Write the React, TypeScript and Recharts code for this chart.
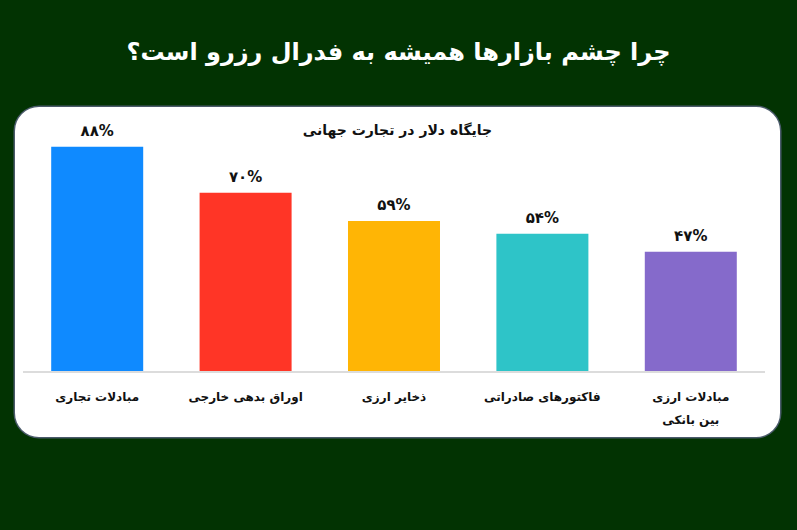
import React from 'react';
import { BarChart, Bar, XAxis, YAxis, Cell, LabelList } from 'recharts';

const categories = ['مبادلات تجاری', 'اوراق بدهی خارجی', 'ذخایر ارزی', 'فاکتورهای صادراتی', 'مبادلات ارزی\nبین بانکی'];
const shares = [88, 70, 59, 54, 47];
const barColors = ['#0f8aff', '#ff3526', '#ffb505', '#2ec4c8', '#856acb'];

const data = categories.map((name, i) => ({ name, value: shares[i] }));

const FONT = '"DejaVu Sans", sans-serif';

const toPersianDigits = (n: number) => String(n).replace(/\d/g, (d) => '۰۱۲۳۴۵۶۷۸۹'[Number(d)]);

const CategoryTick = (props: any) => {
  const { x, y, payload } = props;
  const lines = String(payload.value).split('\n');
  return (
    <g transform={`translate(${x},${y})`}>
      {lines.map((line, i) => (
        <text
          key={i}
          x={0}
          y={17 + i * 23}
          textAnchor="middle"
          dominantBaseline="middle"
          fontFamily={FONT}
          fontWeight="bold"
          fontSize={12}
          fill="#111"
        >
          {line}
        </text>
      ))}
    </g>
  );
};

export default function App() {
  return (
    <div style={{ position: 'fixed', left: 0, top: 0, width: 797, height: 530, background: '#023302', fontFamily: FONT }}>
      <div
        dir="rtl"
        style={{ position: 'absolute', left: 0, top: 32, width: 797, textAlign: 'center', color: '#fff', fontSize: 24, fontWeight: 'bold', lineHeight: '40px' }}
      >
        چرا چشم بازارها همیشه به فدرال رزرو است؟
      </div>

      <div
        style={{ position: 'absolute', left: 15, top: 107, width: 765, height: 330, background: '#fff', borderRadius: 24, boxShadow: '0 0 0 1.5px #4a5a6a', overflow: 'hidden' }}
      >
        <div
          dir="rtl"
          style={{ position: 'absolute', left: 0, top: 12, width: 765, textAlign: 'center', color: '#111', fontSize: 14, fontWeight: 'bold', lineHeight: '22px' }}
        >
          جایگاه دلار در تجارت جهانی
        </div>
        <BarChart width={765} height={330} data={data} margin={{ top: 9, right: 15, left: 8, bottom: 0 }} barCategoryGap="19%">
          <XAxis
            dataKey="name"
            height={65}
            tickLine={false}
            axisLine={{ stroke: '#dcdcdc', strokeWidth: 2 }}
            tick={<CategoryTick />}
            interval={0}
          />
          <YAxis hide domain={[0, 100]} />
          <Bar dataKey="value" isAnimationActive={false}>
            {data.map((_, i) => (
              <Cell key={i} fill={barColors[i]} />
            ))}
            <LabelList
              dataKey="value"
              position="top"
              offset={11}
              formatter={(v: any) => `${toPersianDigits(Number(v))}%`}
              style={{ fontFamily: FONT, fontWeight: 'bold', fontSize: 15, fill: '#111' }}
            />
          </Bar>
        </BarChart>
      </div>
    </div>
  );
}
